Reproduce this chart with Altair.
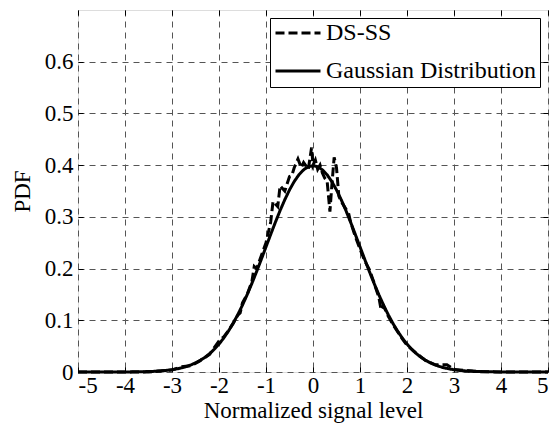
import altair as alt
import pandas as pd

# Theoretical Gaussian
gx = [round(-5 + 0.1 * i, 1) for i in range(101)]
g_half = [0.3989, 0.3970, 0.3910, 0.3814, 0.3683, 0.3521, 0.3332, 0.3123, 0.2897, 0.2661,
          0.2420, 0.2179, 0.1942, 0.1714, 0.1497, 0.1295, 0.1109, 0.0940, 0.0790, 0.0656,
          0.0540, 0.0440, 0.0355, 0.0283, 0.0224, 0.0175, 0.0136, 0.0104, 0.0079, 0.0060,
          0.0044, 0.0033, 0.0024, 0.0017, 0.0012, 0.0009, 0.0006, 0.0004, 0.0003, 0.0002,
          0.0001, 0.0, 0.0, 0.0, 0.0, 0.0, 0.0, 0.0, 0.0, 0.0, 0.0]
gy = g_half[:0:-1] + g_half

# DS-SS simulated PDF
dx = [-5.0, -4.0, -3.5, -3.0, -2.8, -2.6, -2.4, -2.2, -2.0, -1.9, -1.8, -1.7, -1.6, -1.55,
      -1.5, -1.4, -1.3, -1.25, -1.2, -1.1, -1.0, -0.9, -0.85, -0.75, -0.7, -0.6, -0.5,
      -0.45, -0.4, -0.32, -0.25, -0.2, -0.1, -0.03, 0.0, 0.05, 0.1, 0.15, 0.2, 0.25, 0.3,
      0.36, 0.4, 0.45, 0.5, 0.55, 0.6, 0.7, 0.75, 0.8, 0.9, 1.0, 1.1, 1.2, 1.3, 1.4, 1.45,
      1.5, 1.6, 1.7, 1.8, 1.9, 2.0, 2.2, 2.4, 2.6, 2.85, 3.0, 3.5, 4.0, 5.0]
dy = [0.0, 0.0, 0.0, 0.004, 0.010, 0.012, 0.022, 0.034, 0.060, 0.068, 0.080, 0.094, 0.110,
      0.114, 0.134, 0.150, 0.175, 0.204, 0.200, 0.225, 0.250, 0.290, 0.330, 0.320, 0.360,
      0.350, 0.378, 0.380, 0.395, 0.412, 0.395, 0.405, 0.392, 0.434, 0.400, 0.410, 0.392,
      0.400, 0.385, 0.375, 0.370, 0.310, 0.360, 0.415, 0.395, 0.340, 0.330, 0.315, 0.310,
      0.290, 0.262, 0.238, 0.215, 0.198, 0.172, 0.145, 0.120, 0.128, 0.108, 0.092, 0.078,
      0.064, 0.052, 0.036, 0.022, 0.014, 0.014, 0.005, 0.001, 0.0, 0.0]

x_ticks = [-5, -4, -3, -2, -1, 0, 1, 2, 3, 4, 5]
y_ticks = [0, 0.1, 0.2, 0.3, 0.4, 0.5, 0.6]

names = ["DS-SS", "Gaussian Distribution"]

df = pd.concat([
    pd.DataFrame({"x": dx, "y": dy, "series": names[0], "order": range(len(dx))}),
    pd.DataFrame({"x": gx, "y": gy, "series": names[1], "order": range(len(gx))}),
])
ticks_df = pd.DataFrame({"x": [-5, 5], "y": [0, 0.6]})

FONT = "Liberation Serif"
FS = 23

xscale = alt.Scale(domain=[-5, 5], nice=False, zero=False)
yscale = alt.Scale(domain=[0, 0.7], nice=False)

grid_axis = dict(grid=True, gridColor="#555555", gridDash=[6, 5], gridWidth=1,
                 domain=False, ticks=False,
                 labelFont=FONT, labelFontSize=FS, labelColor="black",
                 titleFont=FONT, titleFontSize=FS, titleFontWeight="normal", titleColor="black")

tick_axis = dict(grid=False, domain=False, labels=False, ticks=True, tickSize=5,
                 tickColor="black", tickWidth=1, offset=-5, title=None)

lines = alt.Chart(df).mark_line(strokeWidth=3, color="black").encode(
    x=alt.X("x:Q", scale=xscale,
            axis=alt.Axis(values=x_ticks, title="Normalized signal level", labelPadding=2,
                          titlePadding=2, labelExpr="'' + datum.value", **grid_axis)),
    y=alt.Y("y:Q", scale=yscale,
            axis=alt.Axis(values=y_ticks, title="PDF", labelPadding=5, titlePadding=10,
                          labelExpr="'' + datum.value", **grid_axis)),
    strokeDash=alt.StrokeDash("series:N",
                              scale=alt.Scale(domain=names, range=[[9, 4], [1, 0]]),
                              legend=alt.Legend(title=None, orient="top-right", offset=8,
                                                symbolType="stroke", symbolSize=2025,
                                                symbolStrokeWidth=3, symbolStrokeColor="black",
                                                labelFont=FONT, labelFontSize=24,
                                                labelColor="black", labelLimit=400,
                                                strokeColor="black", fillColor="white",
                                                clipHeight=22, padding=4, rowPadding=14,
                                                labelOffset=4)),
    order="order:Q",
)

ticks_bl = alt.Chart(ticks_df).mark_point(opacity=0).encode(
    x=alt.X("x:Q", scale=xscale, axis=alt.Axis(values=x_ticks, orient="bottom", **tick_axis)),
    y=alt.Y("y:Q", scale=yscale, axis=alt.Axis(values=y_ticks, orient="left", **tick_axis)),
)
ticks_tr = alt.Chart(ticks_df).mark_point(opacity=0).encode(
    x=alt.X("x:Q", scale=xscale, axis=alt.Axis(values=x_ticks, orient="top", **tick_axis)),
    y=alt.Y("y:Q", scale=yscale, axis=alt.Axis(values=y_ticks, orient="right", **tick_axis)),
)

chart = alt.layer(lines, ticks_bl, ticks_tr).resolve_axis(
    x="independent", y="independent"
).properties(
    width=470, height=362,
    autosize=alt.AutoSizeParams(type="none"),
    padding={"left": 70, "top": 2, "right": 2, "bottom": 60},
).configure_view(
    stroke="black", strokeWidth=1.2
).configure(background="white")

chart.save("out.html", embed_options={"renderer": "svg", "actions": False})
